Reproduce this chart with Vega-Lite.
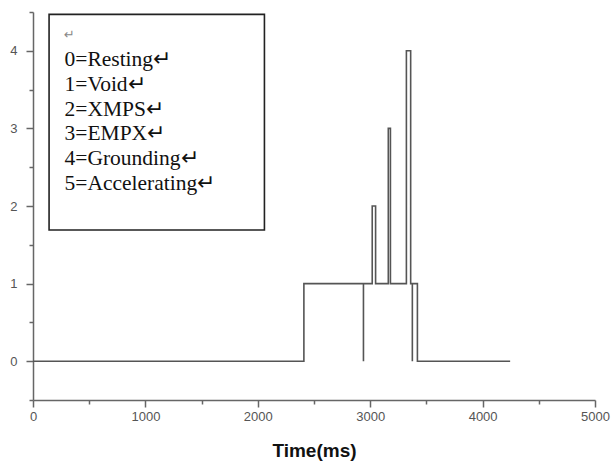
{
  "$schema": "https://vega.github.io/schema/vega-lite/v6.json",
  "width": 562,
  "height": 388,
  "autosize": {"type": "none"},
  "padding": {"left": 33, "top": 12, "right": 16, "bottom": 65},
  "background": "white",
  "config": {"view": {"stroke": null}},
  "layer": [
    {
      "data": {
        "values": [
          {"i": 0, "t": 0, "state": 0},
          {"i": 1, "t": 2410, "state": 0},
          {"i": 2, "t": 2410, "state": 1},
          {"i": 3, "t": 2940, "state": 1},
          {"i": 4, "t": 2940, "state": 0},
          {"i": 5, "t": 2940, "state": 1},
          {"i": 6, "t": 3018, "state": 1},
          {"i": 7, "t": 3018, "state": 2},
          {"i": 8, "t": 3048, "state": 2},
          {"i": 9, "t": 3048, "state": 1},
          {"i": 10, "t": 3161, "state": 1},
          {"i": 11, "t": 3161, "state": 3},
          {"i": 12, "t": 3180, "state": 3},
          {"i": 13, "t": 3180, "state": 1},
          {"i": 14, "t": 3322, "state": 1},
          {"i": 15, "t": 3322, "state": 4},
          {"i": 16, "t": 3360, "state": 4},
          {"i": 17, "t": 3360, "state": 1},
          {"i": 18, "t": 3375, "state": 1},
          {"i": 19, "t": 3375, "state": 0},
          {"i": 20, "t": 3375, "state": 1},
          {"i": 21, "t": 3420, "state": 1},
          {"i": 22, "t": 3420, "state": 0},
          {"i": 23, "t": 4245, "state": 0}
        ]
      },
      "mark": {"type": "line", "color": "#555", "strokeWidth": 1.6},
      "encoding": {
        "x": {
          "field": "t",
          "type": "quantitative",
          "scale": {"domain": [0, 5000], "nice": false, "zero": false},
          "axis": {
            "values": [0, 500, 1000, 1500, 2000, 2500, 3000, 3500, 4000, 4500, 5000],
            "tickCount": 20,
            "labelExpr": "datum.value % 1000 === 0 ? format(datum.value, 'd') : ''",
            "tickSize": {"condition": {"test": "datum.value % 1000 === 0", "value": 7}, "value": 4},
            "grid": false,
            "domainColor": "#666",
            "domainWidth": 1.5,
            "tickColor": "#666",
            "tickWidth": 1.5,
            "labelColor": "#555",
            "labelFont": "Liberation Sans",
            "labelFontSize": 13,
            "labelPadding": 3,
            "labelFlush": false,
            "labelOverlap": false,
            "title": "Time(ms)",
            "titleFont": "Liberation Sans",
            "titleFontSize": 19,
            "titleFontWeight": "bold",
            "titleColor": "#111",
            "titlePadding": 18
          }
        },
        "y": {
          "field": "state",
          "type": "quantitative",
          "scale": {"domain": [-0.5, 4.5], "nice": false, "zero": false},
          "axis": {
            "values": [-0.5, 0, 0.5, 1, 1.5, 2, 2.5, 3, 3.5, 4, 4.5],
            "tickCount": 20,
            "labelExpr": "datum.value % 1 === 0 ? format(datum.value, 'd') : ''",
            "tickSize": {"condition": {"test": "datum.value % 1 === 0", "value": 7}, "value": 4},
            "grid": false,
            "domainColor": "#666",
            "domainWidth": 1.5,
            "tickColor": "#666",
            "tickWidth": 1.5,
            "labelColor": "#555",
            "labelFont": "Liberation Sans",
            "labelFontSize": 13,
            "labelPadding": 9,
            "labelOverlap": false,
            "title": null
          }
        },
        "order": {"field": "i", "type": "quantitative"}
      }
    },
    {
      "data": {"values": [{}]},
      "mark": {"type": "rect", "fill": "white", "stroke": "#222", "strokeWidth": 1.6},
      "encoding": {
        "x": {"datum": 143, "type": "quantitative"},
        "x2": {"datum": 2059},
        "y": {"datum": 4.47, "type": "quantitative"},
        "y2": {"datum": 1.69}
      }
    },
    {
      "data": {
        "values": [
          {"code": 0, "name": "0=Resting↵"},
          {"code": 1, "name": "1=Void↵"},
          {"code": 2, "name": "2=XMPS↵"},
          {"code": 3, "name": "3=EMPX↵"},
          {"code": 4, "name": "4=Grounding↵"},
          {"code": 5, "name": "5=Accelerating↵"}
        ]
      },
      "mark": {"type": "point", "opacity": 0},
      "encoding": {
        "color": {
          "field": "name",
          "type": "nominal",
          "scale": {
            "domain": ["0=Resting↵", "1=Void↵", "2=XMPS↵", "3=EMPX↵", "4=Grounding↵", "5=Accelerating↵"],
            "range": ["#111", "#111", "#111", "#111", "#111", "#111"]
          },
          "legend": {
            "orient": "none",
            "legendX": 31,
            "legendY": 17,
            "title": "↵",
            "titleFont": "DejaVu Sans",
            "titleFontSize": 13,
            "titleFontWeight": "normal",
            "titleColor": "#888",
            "titlePadding": 7,
            "labelFont": "Liberation Serif",
            "labelFontSize": 21.5,
            "labelColor": "#111",
            "labelOffset": -21,
            "labelLimit": 0,
            "symbolSize": 0,
            "symbolOpacity": 0,
            "symbolStrokeWidth": 0,
            "rowPadding": 1.9,
            "padding": 0
          }
        }
      }
    }
  ]
}
